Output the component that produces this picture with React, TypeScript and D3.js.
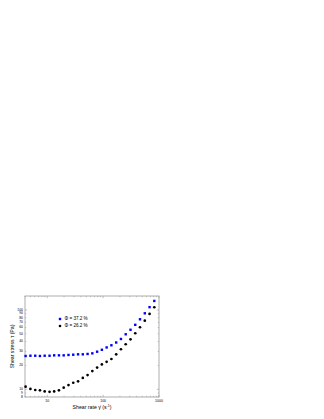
import React, { useRef, useEffect } from "react";
import * as d3 from "d3";

// shear rate (1/s)
const shearRate = [4.1, 5.0, 6.1, 7.4, 9.0, 11.0, 13.3, 16.2, 19.7, 24.0, 29.2, 35.6, 43.3, 52.7,
  64.1, 78.1, 95.0, 115.6, 140.7, 171.4, 208.5, 253.6, 309, 376, 457, 557, 678, 824];
// phi = 37.2 %
const stressHigh = [26.3, 26.5, 26.5, 26.3, 26.5, 26.5, 26.8, 26.8, 26.8, 27.1, 27.3, 27.6, 27.6, 27.9,
  28.4, 29.8, 31.5, 33.7, 35.9, 38.9, 43.1, 49.4, 56.3, 65.0, 76.3, 90.8, 108.5, 130];
// phi = 26.2 %
const stressLow = [10.8, 10.1, 9.8, 9.7, 9.4, 9.3, 9.4, 9.7, 10.5, 11.3, 12.1, 12.6, 13.9, 15.1,
  17.0, 18.8, 20.6, 22.2, 24.1, 27.6, 32.0, 37.0, 42.7, 50.9, 60.6, 73.3, 89.1, 108.2];

const xMajor = [10, 100, 1000];
const xMinor = [4, 5, 6, 7, 8, 9, 20, 30, 40, 50, 60, 70, 80, 90, 200, 300, 400, 500, 600, 700, 800, 900];
const yTicks = [8, 9, 10, 20, 30, 40, 50, 60, 70, 80, 90, 100];
const legendLabels = ["\u03A6 = 37.2 %", "\u03A6 = 26.2 %"];

const App = () => {
  const svgRef = useRef(null);
  const width = 324;
  const height = 419;
  const left = 25, right = 159, top = 296, bottom = 397;
  const font = "'Liberation Sans', Arial, sans-serif";
  const axisColor = "#999";

  useEffect(() => {
    const svg = d3.select(svgRef.current);
    svg.selectAll("*").remove();

    const x = d3.scaleLog().domain([4, 1000]).range([left, right]);
    const y = d3.scaleLog().domain([8, 150]).range([bottom, top]);

    // frame
    svg.append("rect")
      .attr("x", left).attr("y", top)
      .attr("width", right - left).attr("height", bottom - top)
      .attr("fill", "none").attr("stroke", axisColor).attr("stroke-width", 0.8);

    const g = svg.append("g").attr("stroke", axisColor).attr("stroke-width", 0.6);
    // ticks on all four sides, pointing in
    xMajor.concat(xMinor).forEach(v => {
      const len = xMajor.includes(v) ? 2.2 : 1.2;
      g.append("line").attr("x1", x(v)).attr("x2", x(v)).attr("y1", bottom).attr("y2", bottom - len);
      g.append("line").attr("x1", x(v)).attr("x2", x(v)).attr("y1", top).attr("y2", top + len);
    });
    yTicks.forEach(v => {
      const len = (v === 10 || v === 100) ? 2.2 : 1.2;
      g.append("line").attr("y1", y(v)).attr("y2", y(v)).attr("x1", left).attr("x2", left + len);
      g.append("line").attr("y1", y(v)).attr("y2", y(v)).attr("x1", right).attr("x2", right - len);
    });

    // tick labels
    svg.append("g").selectAll("text").data(xMajor).enter().append("text")
      .attr("x", d => x(d)).attr("y", bottom + 5.2)
      .attr("text-anchor", "middle")
      .style("font-family", font).style("font-size", "3.5px")
      .text(d => d);

    svg.append("g").selectAll("text").data(yTicks).enter().append("text")
      .attr("x", left - 2).attr("y", d => y(d))
      .attr("text-anchor", "end").attr("dominant-baseline", "middle")
      .style("font-family", font).style("font-size", "3.4px")
      .text(d => d);

    // axis titles
    const xt = svg.append("text")
      .attr("x", 92).attr("y", 408.5)
      .attr("text-anchor", "middle")
      .style("font-family", font).style("font-size", "5.2px");
    xt.append("tspan").text("Shear rate \u03B3\u0307  (s");
    xt.append("tspan").attr("dy", -2).style("font-size", "3.5px").text("-1");
    xt.append("tspan").attr("dy", 2).text(")");

    svg.append("text")
      .attr("transform", `translate(14, ${(top + bottom) / 2}) rotate(-90)`)
      .attr("text-anchor", "middle")
      .style("font-family", font).style("font-size", "5.2px")
      .text("Shear stress \u03C4 (Pa)");

    // data
    svg.append("g").selectAll("rect").data(shearRate).enter().append("rect")
      .attr("x", d => x(d) - 1.2)
      .attr("y", (d, i) => y(stressHigh[i]) - 1.2)
      .attr("width", 2.4).attr("height", 2.4)
      .attr("fill", "#0000ff");

    svg.append("g").selectAll("circle").data(shearRate).enter().append("circle")
      .attr("cx", d => x(d))
      .attr("cy", (d, i) => y(stressLow[i]))
      .attr("r", 1.35)
      .attr("fill", "#000");

    // legend
    const lg = svg.append("g");
    lg.append("rect").attr("x", 58.8).attr("y", 317.8).attr("width", 2.4).attr("height", 2.4).attr("fill", "#0000ff");
    lg.append("circle").attr("cx", 60).attr("cy", 326).attr("r", 1.3).attr("fill", "#000");
    lg.selectAll("text").data(legendLabels).enter().append("text")
      .attr("x", 64.5).attr("y", (d, i) => 319 + i * 7)
      .attr("dominant-baseline", "middle")
      .style("font-family", font).style("font-size", "4.6px")
      .text(d => d);
  }, []);

  return (
    <div>
      <svg ref={svgRef} width={width} height={height}
        style={{ position: "absolute", left: 0, top: 0, background: "#fff" }}>
      </svg>
    </div>
  );
};

export default App;
